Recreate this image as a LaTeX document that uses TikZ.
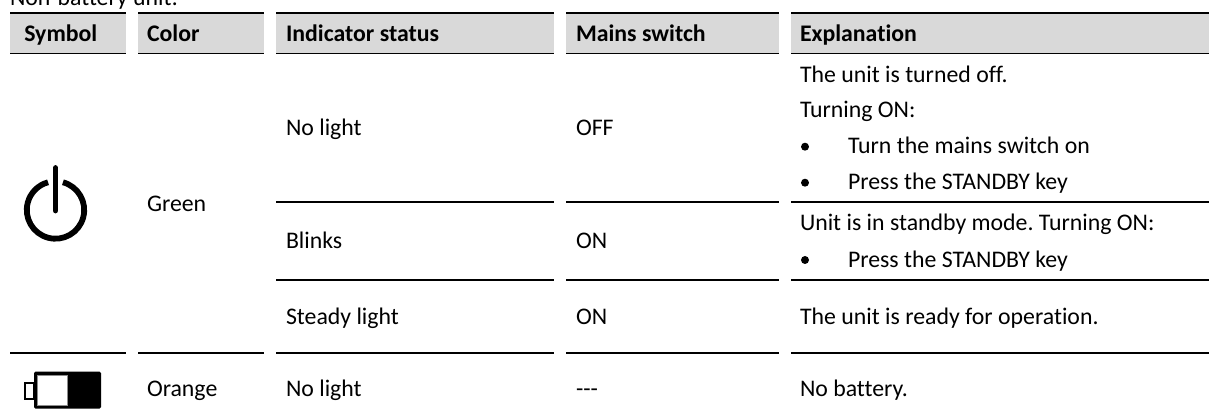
\documentclass[tikz,border=0pt]{standalone}
\usepackage{fontspec}
\setmainfont{Carlito}[Ligatures=NoCommon]
\frenchspacing
\definecolor{hdr}{HTML}{D9D9D9}
\tikzset{x=1pt,y=-1pt,
 txt/.style={anchor=base west,inner sep=0pt,outer sep=0pt,font=\fontsize{23.8}{26}\selectfont,text=black},
 hd/.style={txt,font=\fontsize{23.8}{26}\selectfont\bfseries},
 rule/.style={line width=1.5pt,black},
 hrule/.style={line width=1.6pt,black},
 bul/.style={circle,fill=black,inner sep=0pt,minimum size=8pt}}
\begin{document}
\begin{tikzpicture}
\useasboundingbox (0,0) rectangle (1209,419);
\fill[white] (0,0) rectangle (1209,419);
% header fills
\foreach \a/\b in {10/126,138/264,276/554,566/779,791/1209}{
 \fill[hdr] (\a,13) rectangle (\b,53.5);
 \draw[hrule] (\a,13) -- (\b,13);
 \draw[hrule] (\a,53.5) -- (\b,53.5);
}
\node[txt] (title) at (10,6) {Non-battery unit:};
\node[hd] (h1) at (24.3,41.5) {Symbol};
\node[hd] (h2) at (147,41.5) {Color};
\node[hd] (h3) at (286,41.5) {Indicator status};
\node[hd] (h4) at (576,41.5) {Mains switch};
\node[hd] (h5) at (800,41.5) {Explanation};
% row rules
\foreach \a/\b in {276/554,566/779,791/1209}{
 \draw[rule] (\a,201.8) -- (\b,201.8);
 \draw[rule] (\a,279.8) -- (\b,279.8);
}
\foreach \a/\b in {10/126,138/264,276/554,566/779,791/1209}{
 \draw[rule] (\a,353) -- (\b,353);
}
\node[txt] (a1) at (286,136) {No light};
\node[txt] (b1) at (576,136) {OFF};
\node[txt] (col1) at (147,211.7) {Green};
\node[txt] (a2) at (286,249) {Blinks};
\node[txt] (b2) at (576,249) {ON};
\node[txt] (a3) at (286,324) {Steady light};
\node[txt] (b3) at (576,324) {ON};
\node[txt] (e5) at (800,324) {The unit is ready for operation.};
\node[txt] (col2) at (147,396.7) {Orange};
\node[txt] (a4) at (286,396.7) {No light};
\node[txt] (b4) at (576,396.7) {{-}{-}{-}};
\node[txt] (e6) at (800,396.7) {No battery.};
\node[txt] (e1) at (800,83) {The unit is turned off.};
\node[txt] (e2) at (800,118) {Turning ON:};
\node[txt] (e3) at (848,153.5) {Turn the mains switch on};
\node[txt] (e4) at (848,189.5) {Press the STANDBY key};
\node[txt] (e7) at (800,231) {Unit is in standby mode. Turning ON:};
\node[txt] (e8) at (848,267.5) {Press the STANDBY key};
\node[bul] (d1) at (805,146.7) {};
\node[bul] (d2) at (805,182.7) {};
\node[bul] (d3) at (805,260) {};
% power symbol
\draw[line width=5.8pt] (55.5,210) ++(-75:28.7) arc[start angle=-75,end angle=255,radius=28.7];
\draw[line width=5.8pt,line cap=round] (55.5,168) -- (55.5,210.5);
% battery symbol
\draw[line width=2pt] (25,382.5) rectangle (34,398.5);
\fill[black,rounded corners=1.5pt] (34,371.7) rectangle (101,408.7);
\fill[white,draw=black!45,line width=0.8pt] (37.5,375) rectangle (67.7,405.6);
\end{tikzpicture}
\end{document}
